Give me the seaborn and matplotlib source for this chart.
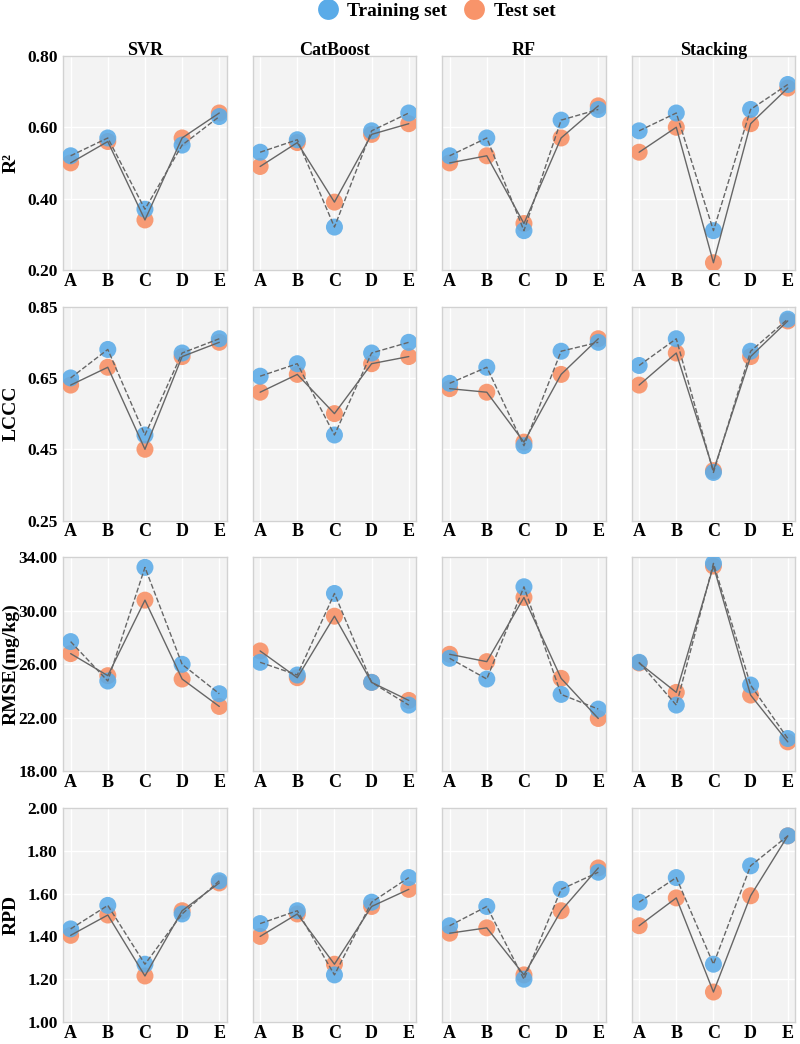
import pandas as pd
import numpy as np
import seaborn as sns
import matplotlib.pyplot as plt
from matplotlib.lines import Line2D

# Datos
groups = ['A', 'B', 'C', 'D', 'E']
models = ['SVR', 'CatBoost', 'RF', 'Stacking']
metrics = ['R²', 'LCCC', 'RMSE(mg/kg)', 'RPD']

r2_train = {'SVR': [0.52, 0.57, 0.37, 0.55, 0.63],
            'CatBoost': [0.53, 0.565, 0.32, 0.59, 0.64],
            'RF': [0.52, 0.57, 0.31, 0.62, 0.65],
            'Stacking': [0.59, 0.64, 0.31, 0.65, 0.72]}
r2_test = {'SVR': [0.50, 0.56, 0.34, 0.57, 0.64],
           'CatBoost': [0.49, 0.557, 0.39, 0.58, 0.61],
           'RF': [0.50, 0.52, 0.33, 0.57, 0.66],
           'Stacking': [0.53, 0.60, 0.22, 0.61, 0.71]}

lccc_train = {'SVR': [0.65, 0.73, 0.49, 0.72, 0.76],
              'CatBoost': [0.655, 0.69, 0.49, 0.72, 0.75],
              'RF': [0.635, 0.68, 0.46, 0.725, 0.75],
              'Stacking': [0.685, 0.76, 0.385, 0.725, 0.815]}
lccc_test = {'SVR': [0.63, 0.68, 0.45, 0.71, 0.75],
             'CatBoost': [0.61, 0.66, 0.55, 0.69, 0.71],
             'RF': [0.62, 0.61, 0.47, 0.66, 0.76],
             'Stacking': [0.63, 0.72, 0.39, 0.71, 0.81]}

rmse_train = {'SVR': [27.7, 24.75, 33.25, 26.0, 23.8],
              'CatBoost': [26.15, 25.2, 31.3, 24.65, 22.95],
              'RF': [26.45, 24.9, 31.8, 23.75, 22.65],
              'Stacking': [26.15, 22.95, 33.55, 24.45, 20.45]}
rmse_test = {'SVR': [26.8, 25.15, 30.8, 24.9, 22.85],
             'CatBoost': [27.0, 25.0, 29.6, 24.65, 23.3],
             'RF': [26.75, 26.2, 31.0, 24.95, 21.95],
             'Stacking': [26.1, 23.9, 33.35, 23.7, 20.2]}

rpd_train = {'SVR': [1.435, 1.545, 1.27, 1.505, 1.66],
             'CatBoost': [1.46, 1.52, 1.22, 1.56, 1.675],
             'RF': [1.45, 1.54, 1.20, 1.62, 1.70],
             'Stacking': [1.56, 1.675, 1.27, 1.73, 1.87]}
rpd_test = {'SVR': [1.405, 1.50, 1.215, 1.52, 1.65],
            'CatBoost': [1.40, 1.505, 1.27, 1.54, 1.62],
            'RF': [1.415, 1.44, 1.22, 1.52, 1.72],
            'Stacking': [1.45, 1.58, 1.14, 1.59, 1.87]}

train_sets = [r2_train, lccc_train, rmse_train, rpd_train]
test_sets = [r2_test, lccc_test, rmse_test, rpd_test]

y_limits = [(0.20, 0.80), (0.25, 0.85), (18.0, 34.0), (1.00, 2.00)]
y_ticks = [[0.20, 0.40, 0.60, 0.80], [0.25, 0.45, 0.65, 0.85],
           [18, 22, 26, 30, 34], [1.0, 1.2, 1.4, 1.6, 1.8, 2.0]]

blue = '#5aabe8'
orange = '#f8946a'

# Estilo
sns.set_theme(style="whitegrid")
plt.rcParams['font.family'] = ['Liberation Serif', 'DejaVu Serif']
plt.rcParams['font.weight'] = 'bold'
plt.rcParams['axes.labelweight'] = 'bold'
plt.rcParams['axes.titleweight'] = 'bold'
plt.rcParams['text.color'] = 'black'
plt.rcParams['axes.labelcolor'] = 'black'
plt.rcParams['xtick.color'] = 'black'
plt.rcParams['ytick.color'] = 'black'

fig, axes = plt.subplots(4, 4, figsize=(8, 10.44), dpi=100, sharey='row')
plt.subplots_adjust(left=0.079, right=0.994, top=0.9464, bottom=0.0211,
                    wspace=0.159, hspace=0.172)

for i, metric in enumerate(metrics):
    for j, model in enumerate(models):
        ax = axes[i, j]
        df = pd.DataFrame({'grupo': groups,
                           'train': train_sets[i][model],
                           'test': test_sets[i][model]})
        ax.set_facecolor('#f3f3f3')
        sns.scatterplot(x='grupo', y='test', data=df, ax=ax, color=orange,
                        s=150, edgecolor='none', alpha=0.92, zorder=3)
        sns.scatterplot(x='grupo', y='train', data=df, ax=ax, color=blue,
                        s=150, edgecolor='none', alpha=0.88, zorder=4)
        sns.lineplot(x='grupo', y='test', data=df, ax=ax, color='#666666',
                     linewidth=1.0, sort=False, zorder=5)
        sns.lineplot(x='grupo', y='train', data=df, ax=ax, color='#666666',
                     linewidth=1.0, linestyle='--', sort=False, zorder=5)

        ax.set_xlim(-0.2, 4.2)
        ax.set_ylim(*y_limits[i])
        ax.set_yticks(y_ticks[i])
        ax.set_xticks(range(len(groups)))
        ax.set_xticklabels(groups, fontsize=13, fontweight='bold')
        ax.grid(True, color='white', linewidth=1.0)
        ax.tick_params(length=0)
        ax.tick_params(axis='x', pad=2, labelsize=13)
        ax.tick_params(axis='y', pad=4, labelsize=12.5)
        for s in ax.spines.values():
            s.set_color('#d2d2d2')
            s.set_linewidth(1.0)
        ax.set_xlabel('')
        if j == 0:
            ax.set_ylabel(metric, fontsize=14, fontweight='bold')
            ax.yaxis.set_label_coords(-0.268, 0.5)
            ax.set_yticklabels([f'{t:.2f}' for t in y_ticks[i]],
                               fontsize=12.5, fontweight='bold')
        else:
            ax.set_ylabel('')
            ax.tick_params(labelleft=False)
        if i == 0:
            ax.set_title(model, fontsize=13, fontweight='bold', pad=1)

handles = [Line2D([0], [0], marker='o', linestyle='', markersize=15,
                  markerfacecolor=blue, markeredgecolor='none', label='Training set'),
           Line2D([0], [0], marker='o', linestyle='', markersize=15,
                  markerfacecolor=orange, markeredgecolor='none', label='Test set')]
fig.legend(handles=handles, loc='center', bbox_to_anchor=(0.54, 0.989), ncol=2,
           frameon=False, handletextpad=0.0, columnspacing=0.4,
           prop={'size': 14, 'weight': 'bold'})

plt.savefig('out.png')
